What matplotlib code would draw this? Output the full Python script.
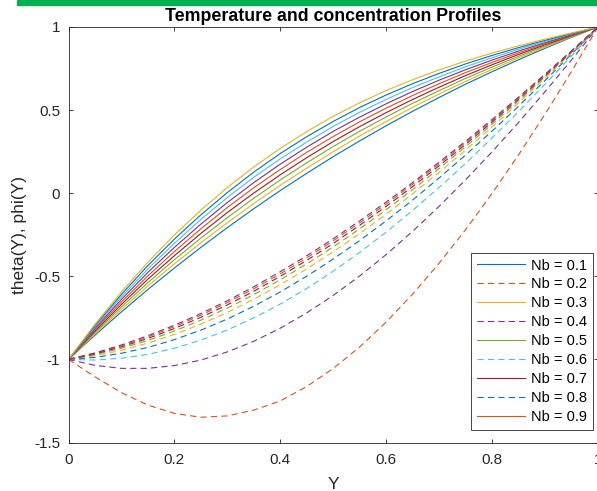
import matplotlib
matplotlib.use('Agg')
import matplotlib.pyplot as plt
from matplotlib.patches import Rectangle

# Posição adimensional Y
Y = [0.0, 0.05, 0.1, 0.15, 0.2, 0.25, 0.3, 0.35, 0.4, 0.45, 0.5,
     0.55, 0.6, 0.65, 0.7, 0.75, 0.8, 0.85, 0.9, 0.95, 1.0]

# Valores de Nb usados nas curvas
nb_values = [0.1, 0.2, 0.3, 0.4, 0.5, 0.6, 0.7, 0.8, 0.9]

# Perfis de temperatura theta(Y) para cada Nb
theta_01 = [-1, -0.854, -0.714, -0.579, -0.450, -0.326, -0.207, -0.093, 0.016, 0.120, 0.220,
            0.315, 0.406, 0.493, 0.576, 0.656, 0.731, 0.803, 0.872, 0.938, 1]
theta_02 = [-1, -0.846, -0.699, -0.558, -0.425, -0.298, -0.177, -0.062, 0.048, 0.151, 0.250,
            0.344, 0.432, 0.517, 0.597, 0.673, 0.745, 0.814, 0.879, 0.941, 1]
theta_03 = [-1, -0.838, -0.684, -0.538, -0.400, -0.270, -0.147, -0.030, 0.080, 0.183, 0.281,
            0.373, 0.459, 0.541, 0.617, 0.691, 0.759, 0.824, 0.886, 0.944, 1]
theta_04 = [-1, -0.830, -0.669, -0.517, -0.376, -0.242, -0.116, 0.001, 0.111, 0.214, 0.311,
            0.401, 0.485, 0.564, 0.638, 0.708, 0.773, 0.835, 0.893, 0.948, 1]
theta_05 = [-1, -0.821, -0.654, -0.497, -0.351, -0.214, -0.086, 0.033, 0.143, 0.246, 0.341,
            0.430, 0.512, 0.588, 0.659, 0.726, 0.787, 0.845, 0.899, 0.951, 1]
theta_06 = [-1, -0.813, -0.639, -0.476, -0.326, -0.186, -0.056, 0.064, 0.175, 0.277, 0.372,
            0.458, 0.538, 0.612, 0.680, 0.743, 0.801, 0.855, 0.906, 0.954, 1]
theta_07 = [-1, -0.805, -0.624, -0.456, -0.301, -0.158, -0.026, 0.096, 0.207, 0.308, 0.402,
            0.487, 0.564, 0.636, 0.700, 0.761, 0.815, 0.866, 0.913, 0.958, 1]
theta_08 = [-1, -0.797, -0.609, -0.435, -0.276, -0.130, 0.004, 0.127, 0.239, 0.340, 0.432,
            0.516, 0.591, 0.659, 0.721, 0.778, 0.829, 0.876, 0.920, 0.961, 1]
theta_09 = [-1, -0.789, -0.594, -0.415, -0.251, -0.102, 0.035, 0.158, 0.270, 0.371, 0.463,
            0.544, 0.618, 0.683, 0.742, 0.795, 0.843, 0.887, 0.927, 0.964, 1]

# Perfis de concentração phi(Y) para cada Nb
phi_01 = [-1, -1.105, -1.200, -1.275, -1.325, -1.348, -1.340, -1.305, -1.250, -1.163, -1.054,
          -0.925, -0.775, -0.607, -0.421, -0.219, -0.001, 0.231, 0.476, 0.733, 1]
phi_02 = [-1, -1.036, -1.054, -1.054, -1.037, -1.004, -0.955, -0.891, -0.812, -0.720, -0.615,
          -0.498, -0.369, -0.229, -0.079, 0.081, 0.249, 0.426, 0.611, 0.802, 1]
phi_03 = [-1, -1.004, -0.993, -0.970, -0.933, -0.884, -0.823, -0.750, -0.667, -0.573, -0.469,
          -0.356, -0.234, -0.103, 0.035, 0.180, 0.333, 0.491, 0.656, 0.826, 1]
phi_04 = [-1, -0.988, -0.963, -0.928, -0.881, -0.824, -0.757, -0.680, -0.594, -0.499, -0.396,
          -0.285, -0.166, -0.041, 0.092, 0.230, 0.374, 0.524, 0.678, 0.837, 1]
phi_05 = [-1, -0.978, -0.945, -0.902, -0.850, -0.788, -0.717, -0.638, -0.550, -0.455, -0.352,
          -0.242, -0.126, -0.003, 0.126, 0.260, 0.399, 0.543, 0.692, 0.844, 1]
phi_06 = [-1, -0.971, -0.933, -0.886, -0.829, -0.764, -0.691, -0.610, -0.521, -0.425, -0.323,
          -0.214, -0.099, 0.022, 0.149, 0.280, 0.416, 0.556, 0.701, 0.849, 1]
phi_07 = [-1, -0.967, -0.924, -0.874, -0.814, -0.747, -0.672, -0.590, -0.500, -0.404, -0.302,
          -0.193, -0.079, 0.040, 0.165, 0.294, 0.428, 0.566, 0.707, 0.852, 1]
phi_08 = [-1, -0.963, -0.918, -0.865, -0.803, -0.734, -0.658, -0.575, -0.485, -0.389, -0.286,
          -0.178, -0.065, 0.054, 0.177, 0.305, 0.437, 0.573, 0.712, 0.855, 1]
phi_09 = [-1, -0.961, -0.913, -0.857, -0.794, -0.724, -0.647, -0.563, -0.472, -0.376, -0.274,
          -0.166, -0.053, 0.064, 0.187, 0.313, 0.444, 0.578, 0.716, 0.857, 1]

thetas = [theta_01, theta_02, theta_03, theta_04, theta_05, theta_06, theta_07, theta_08, theta_09]
phis = [phi_01, phi_02, phi_03, phi_04, phi_05, phi_06, phi_07, phi_08, phi_09]

# Ordem de cores padrão do MATLAB
cores = ['#0072BD', '#D95319', '#EDB120', '#7E2F8E', '#77AC30', '#4DBEEE', '#A2142F']

plt.rcParams['font.family'] = ['Liberation Sans', 'DejaVu Sans']
plt.rcParams['lines.scale_dashes'] = False
cinza = '#262626'

fig = plt.figure(figsize=(5.97, 4.91), dpi=100)
ax = fig.add_axes([68.5 / 597, 48.5 / 491, 529.5 / 597, 415.5 / 491])

# Faixa verde no topo da figura
fig.patches.append(Rectangle((17 / 597, 486 / 491), 580 / 597, 5 / 491,
                             transform=fig.transFigure, color='#00B050', zorder=0))

# Cada Nb gera duas curvas (theta sólida, phi tracejada); a cor avança a cada curva
linhas = []
i = 0
for theta, phi in zip(thetas, phis):
    l1, = ax.plot(Y, theta, color=cores[i % 7], linestyle='-', linewidth=0.8)
    i += 1
    l2, = ax.plot(Y, phi, color=cores[i % 7], linestyle=(0, (4.5, 3)), linewidth=0.8)
    i += 1
    linhas += [l1, l2]

ax.set_xlim(0, 1)
ax.set_ylim(-1.5, 1)
ax.set_xticks([0, 0.2, 0.4, 0.6, 0.8, 1])
ax.set_xticklabels(['0', '0.2', '0.4', '0.6', '0.8', '1'])
ax.set_yticks([-1.5, -1, -0.5, 0, 0.5, 1])
ax.set_yticklabels(['-1.5', '-1', '-0.5', '0', '0.5', '1'])
ax.tick_params(direction='in', length=3.2, width=0.6, colors=cinza, labelsize=11,
               top=True, right=True, pad=6)
ax.tick_params(axis='x', pad=7.5)
for s in ax.spines.values():
    s.set_color(cinza)
    s.set_linewidth(0.6)

ax.set_title('Temperature and concentration Profiles', fontsize=12.8, fontweight='bold',
             color='black', pad=4)
ax.set_xlabel('Y', fontsize=12.5, color=cinza, labelpad=7)
ax.set_ylabel('theta(Y), phi(Y)', fontsize=12.5, color=cinza, labelpad=5)

# A legenda só cobre as primeiras nove curvas
leg = ax.legend(linhas[:9], ['Nb = %.1f' % nb for nb in nb_values],
                loc='lower right', bbox_to_anchor=(0.990, 0.030), borderaxespad=0,
                fontsize=10.5, handlelength=3.3, handletextpad=0.4,
                labelspacing=0.34, borderpad=0.4, fancybox=False, framealpha=1)
leg.get_frame().set_edgecolor(cinza)
leg.get_frame().set_linewidth(0.6)

plt.savefig('out.png', dpi=100)
